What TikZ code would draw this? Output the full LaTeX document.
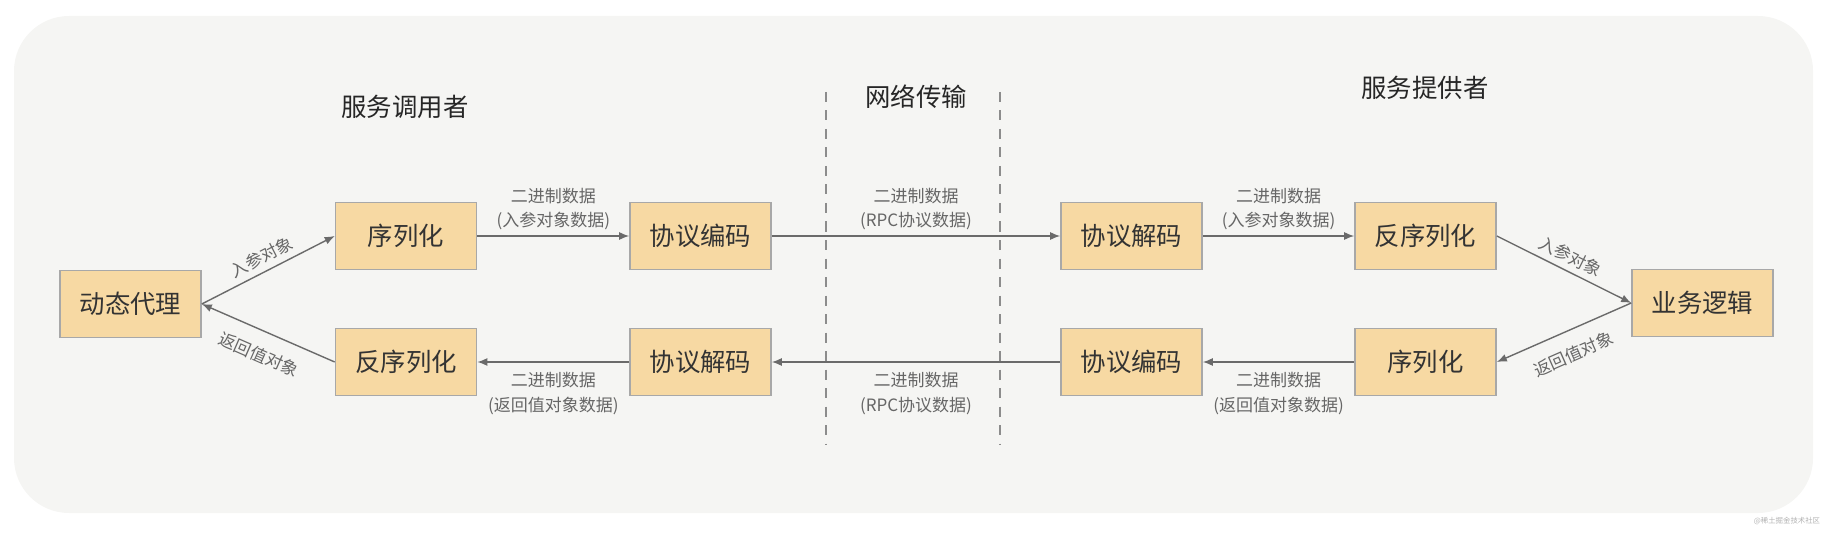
\documentclass[tikz,border=0pt]{standalone}
\usepackage{fontspec}
\setmainfont{Noto Sans CJK SC}
\usetikzlibrary{arrows.meta}
\definecolor{boxfill}{HTML}{F7D9A3}
\definecolor{boxline}{HTML}{A8A8A8}
\definecolor{bgfill}{HTML}{F5F5F3}
\definecolor{linegray}{HTML}{6A6A6A}
\definecolor{txtgray}{HTML}{666666}
\tikzset{
  stage/.style={draw=boxline, fill=boxfill, line width=0.8pt, minimum width=70.5pt,
    minimum height=33.5pt, inner sep=0pt, font=\fontsize{12.7}{15}\selectfont, text=black!80},
  flow/.style={draw=linegray, line width=0.7pt, -{Latex[length=5pt,width=4pt]}},
  lbl/.style={font=\fontsize{8.5}{12.25}\selectfont, text=txtgray, align=center, inner sep=0pt},
  title/.style={font=\fontsize{12.7}{15}\selectfont, text=black!85},
}
\newcommand\mkbox[4]{\node[stage] (#1) at (#2,#3) {#4};}

\begin{document}
\begin{tikzpicture}[x=0.5pt,y=-0.5pt]
\useasboundingbox (0,0) rectangle (1839,534);
\fill[bgfill, rounded corners=27.5pt] (14,16) rectangle (1813,513);
\node[title] (caller) at (405,107) {服务调用者};
\node[title] (net) at (916,97) {网络传输};
\node[title] (provider) at (1425,88) {服务提供者};
\foreach \x in {826,1000} \draw[black!45, line width=0.75pt, dash pattern=on 5pt off 4.25pt] (\x,92) -- (\x,444);
\mkbox{proxy}{130.5}{304}{动态代理}
\mkbox{ser}{406}{236}{序列化}
\mkbox{deser}{406}{362}{反序列化}
\mkbox{enc}{700.5}{236}{协议编码}
\mkbox{dec}{700.5}{362}{协议解码}
\mkbox{pdec}{1131.5}{236}{协议解码}
\mkbox{penc}{1131.5}{362}{协议编码}
\mkbox{pdeser}{1425.5}{236}{反序列化}
\mkbox{pser}{1425.5}{362}{序列化}
\mkbox{logic}{1702.5}{303}{业务逻辑}
\draw[flow] (proxy.east) -- node[lbl, sloped, above=3pt] {入参对象} (ser.west);
\draw[flow] (deser.west) -- node[lbl, sloped, below=7.5pt] {返回值对象} (proxy.east);
\draw[flow] (ser) -- node[lbl, above=2.5pt] {二进制数据\\(入参对象数据)} (enc);
\draw[flow] (dec) -- node[lbl, below=5pt] {二进制数据\\(返回值对象数据)} (deser);
\draw[flow] (enc) -- node[lbl, above=2.5pt] {二进制数据\\(RPC协议数据)} (pdec);
\draw[flow] (penc) -- node[lbl, below=5pt] {二进制数据\\(RPC协议数据)} (dec);
\draw[flow] (pdec) -- node[lbl, above=2.5pt] {二进制数据\\(入参对象数据)} (pdeser);
\draw[flow] (pser) -- node[lbl, below=5pt] {二进制数据\\(返回值对象数据)} (penc);
\draw[flow] (pdeser.east) -- node[lbl, sloped, above=3pt] {入参对象} (logic.west);
\draw[flow] (logic.west) -- node[lbl, sloped, below=7.5pt] {返回值对象} (pser.east);
\node[font=\fontsize{3.7}{4}\selectfont, text=black!30] (mark) at (1787,521) {@稀土掘金技术社区};
\end{tikzpicture}
\end{document}
